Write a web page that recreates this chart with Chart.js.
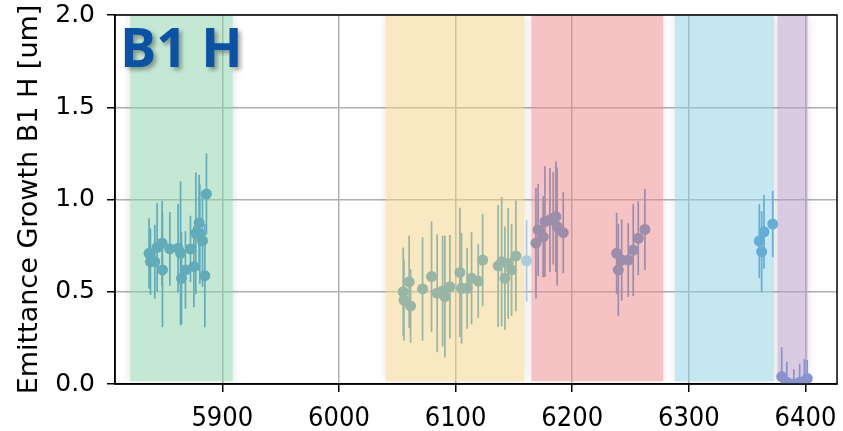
<!DOCTYPE html>
<html><head><meta charset="utf-8">
<script src="https://cdn.jsdelivr.net/npm/chart.js@4.4.1/dist/chart.umd.min.js"></script>
<style>html,body{margin:0;padding:0;background:#fff;}canvas{display:block}</style>
</head><body>
<canvas id="c" width="843" height="431"></canvas>
<script>
// ---- data ----
const xTickValues = [5900, 6000, 6100, 6200, 6300, 6400];
const yTickValues = [0, 0.5, 1.0, 1.5, 2.0];

// shaded fill periods (x ranges)
const bandStart = [5821, 6040, 6165, 6288, 6376];
const bandEnd   = [5909, 6159, 6278, 6373, 6402];

const greenX   = [5837.2, 5838.4, 5842.1, 5844.1, 5848.4, 5848.7, 5855.0, 5862.1, 5864.2, 5865.0, 5868.4, 5872.7, 5875.6, 5877.3, 5880.1, 5880.7, 5883.0, 5885.0, 5886.4];
const greenY   = [0.708, 0.663, 0.663, 0.741, 0.763, 0.618, 0.732, 0.736, 0.708, 0.573, 0.618, 0.732, 0.636, 0.817, 0.874, 0.813, 0.777, 0.587, 1.030];
const greenErr = [0.19, 0.18, 0.20, 0.24, 0.23, 0.31, 0.20, 0.24, 0.39, 0.25, 0.21, 0.18, 0.22, 0.33, 0.26, 0.27, 0.25, 0.28, 0.22];

const yellowX   = [6055.1, 6055.7, 6060.2, 6061.4, 6071.7, 6079.4, 6084.2, 6088.9, 6090.8, 6095.1, 6103.7, 6105.1, 6109.9, 6113.7, 6119.4, 6123.2, 6136.5, 6139.5, 6142.3, 6145.1, 6148.0, 6151.7];
const yellowY   = [0.500, 0.455, 0.554, 0.423, 0.515, 0.582, 0.492, 0.504, 0.473, 0.527, 0.605, 0.519, 0.519, 0.573, 0.558, 0.672, 0.640, 0.663, 0.573, 0.654, 0.618, 0.694];
const yellowErr = [0.24, 0.22, 0.25, 0.20, 0.28, 0.30, 0.32, 0.30, 0.33, 0.28, 0.35, 0.30, 0.22, 0.25, 0.20, 0.25, 0.33, 0.35, 0.28, 0.30, 0.25, 0.30];

const gapX   = [6160.9];
const gapY   = [0.668];
const gapErr = [0.22];

const redX   = [6168.9, 6170.8, 6175.1, 6176.6, 6180.9, 6183.7, 6186.0, 6187.1, 6192.3, 6238.1, 6239.5, 6242.4, 6248.0, 6252.3, 6256.6, 6262.3];
const redY   = [0.763, 0.835, 0.798, 0.880, 0.889, 0.898, 0.907, 0.853, 0.820, 0.708, 0.618, 0.672, 0.672, 0.726, 0.790, 0.838];
const redErr = [0.30, 0.25, 0.22, 0.30, 0.28, 0.25, 0.30, 0.32, 0.22, 0.22, 0.25, 0.22, 0.20, 0.25, 0.20, 0.22];

const blueX   = [6360.4, 6362.4, 6364.4, 6371.9];
const blueY   = [0.775, 0.717, 0.825, 0.867];
const blueErr = [0.20, 0.22, 0.20, 0.18];

const purpleX   = [6379.6, 6384.0, 6390.0, 6395.0, 6399.0, 6401.5];
const purpleY   = [0.040, 0.010, 0.000, 0.010, 0.015, 0.030];
const purpleErr = [0.16, 0.11, 0.08, 0.10, 0.12, 0.10];

// ---- styles ----
const bandColors = ['rgba(139,209,171,0.5)', 'rgba(241,211,135,0.5)', 'rgba(235,135,137,0.5)', 'rgba(137,207,229,0.5)', 'rgba(181,151,199,0.5)'];
const groups = [
  {x: greenX,  y: greenY,  e: greenErr,  color: '#62abb9'},
  {x: yellowX, y: yellowY, e: yellowErr, color: '#98b5a6'},
  {x: gapX,    y: gapY,    e: gapErr,    color: '#a9cce0'},
  {x: redX,    y: redY,    e: redErr,    color: '#9d8daa'},
  {x: blueX,   y: blueY,   e: blueErr,   color: '#66acd4'},
  {x: purpleX, y: purpleY, e: purpleErr, color: '#8893cc'}
];

const datasets = groups.map(g => ({
  data: g.x.map((xv, i) => ({x: xv, y: g.y[i]})),
  errs: g.e,
  backgroundColor: g.color,
  borderWidth: 0,
  pointRadius: 5.5,
  pointHoverRadius: 5.5,
  showLine: false
}));

const bandsPlugin = {
  id: 'bands',
  beforeDatasetsDraw(chart) {
    const {ctx, chartArea: ca, scales: {x, y}} = chart;
    const W = ca.right - ca.left, H = ca.bottom - ca.top;
    const rects = bandStart.map((s, i) => {
      const x0 = x.getPixelForValue(s), x1 = x.getPixelForValue(bandEnd[i]);
      const y0 = y.getPixelForValue(2.0), y1 = y.getPixelForValue(0.015);
      return [x0, y0, x1 - x0, y1 - y0];
    });
    rects.forEach(r => {
      ctx.save();
      ctx.beginPath();
      ctx.rect(ca.left, ca.top, W, H);
      ctx.rect(r[0], r[1], r[2], r[3]);
      ctx.clip('evenodd');
      ctx.shadowColor = 'rgba(0,0,0,0.13)';
      ctx.shadowBlur = 9;
      ctx.shadowOffsetX = 10000;
      ctx.fillStyle = '#000';
      ctx.fillRect(r[0] - 10000, r[1], r[2], r[3]);
      ctx.restore();
    });
    ctx.save();
    ctx.beginPath();
    ctx.rect(ca.left, ca.top, W, H);
    ctx.clip();
    rects.forEach((r, i) => {
      ctx.fillStyle = bandColors[i];
      ctx.fillRect(r[0], r[1], r[2], r[3]);
    });
    chart.data.datasets.forEach(ds => {
      ctx.strokeStyle = ds.backgroundColor;
      ctx.lineWidth = 1.7;
      ds.data.forEach((p, i) => {
        const px = x.getPixelForValue(p.x);
        ctx.beginPath();
        ctx.moveTo(px, y.getPixelForValue(p.y - ds.errs[i]));
        ctx.lineTo(px, y.getPixelForValue(p.y + ds.errs[i]));
        ctx.stroke();
      });
    });
    ctx.restore();
  },
  afterDatasetsDraw(chart) {
    const {ctx, chartArea} = chart;
    ctx.save();
    ctx.strokeStyle = '#000';
    ctx.lineWidth = 1.5;
    ctx.strokeRect(chartArea.left, chartArea.top, chartArea.right - chartArea.left, chartArea.bottom - chartArea.top);
    ctx.restore();
  },
  afterDraw(chart) {
    const {ctx} = chart;
    ctx.save();
    ctx.font = 'bold 54px "Open Sans"';
    ctx.textBaseline = 'alphabetic';
    ctx.shadowColor = 'rgba(0,0,0,0.35)';
    ctx.shadowOffsetX = 3;
    ctx.shadowOffsetY = 3;
    ctx.shadowBlur = 4;
    ctx.fillStyle = '#0b53a2';
    ctx.fillText('B1 H', 120, 67);
    ctx.restore();
  }
};

new Chart(document.getElementById('c'), {
  type: 'scatter',
  data: {datasets},
  plugins: [bandsPlugin],
  options: {
    responsive: false,
    animation: false,
    events: [],
    layout: {padding: {left: 0, top: 15, right: 6, bottom: 0}},
    plugins: {legend: {display: false}, tooltip: {enabled: false}},
    scales: {
      x: {
        type: 'linear',
        min: 5808, max: 6427,
        afterBuildTicks: s => { s.ticks = xTickValues.map(v => ({value: v})); },
        afterFit: s => { s.height = 47; s.paddingLeft = 0; s.paddingRight = 0; },
        grid: {color: '#b0b0b0', lineWidth: 1.5, tickColor: '#000', tickLength: 8, tickWidth: 1.5},
        border: {color: '#000', width: 1.5},
        ticks: {
          color: '#000', padding: 11, maxRotation: 0,
          font: {family: "'DejaVu Sans Condensed', 'DejaVu Sans'", size: 27},
          callback: v => String(v)
        }
      },
      y: {
        min: 0, max: 2,
        afterBuildTicks: s => { s.ticks = yTickValues.map(v => ({value: v})); },
        afterFit: s => { s.width = 115; s.paddingTop = 0; s.paddingBottom = 0; },
        grid: {color: '#b0b0b0', lineWidth: 1.5, tickColor: '#000', tickLength: 8, tickWidth: 1.5},
        border: {color: '#000', width: 1.5},
        title: {display: true, text: 'Emittance Growth B1 H [um]', color: '#000', padding: {top: 14, bottom: 0},
                font: {family: "'DejaVu Sans'", size: 27}},
        ticks: {
          color: '#000', padding: 12,
          font: {family: "'DejaVu Sans'", size: 25},
          callback: v => v.toFixed(1)
        }
      }
    }
  }
});
</script>
</body></html>
